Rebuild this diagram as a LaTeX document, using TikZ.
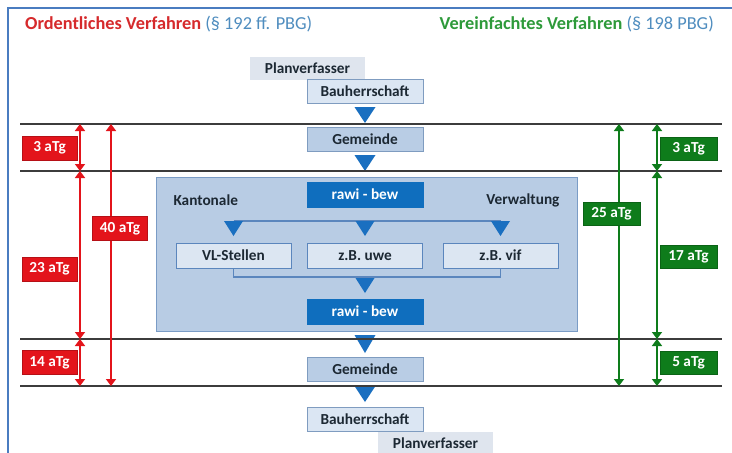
\documentclass[tikz,border=0pt]{standalone}
\usepackage{fontspec}
\setmainfont{Carlito}
\usetikzlibrary{arrows.meta,calc}
\definecolor{frameblue}{HTML}{4A7CC0}
\definecolor{tred}{HTML}{D62A2C}
\definecolor{tgreen}{HTML}{2E9A3A}
\definecolor{tblue}{HTML}{4F8DBF}
\definecolor{planfill}{HTML}{DFE5EE}
\definecolor{baufill}{HTML}{DBE6F3}
\definecolor{boxline}{HTML}{7F9CC0}
\definecolor{gemfill}{HTML}{B9CDE5}
\definecolor{bigfill}{HTML}{B8CCE4}
\definecolor{bigline}{HTML}{7A9CC6}
\definecolor{rawifill}{HTML}{0F6EBE}
\definecolor{innerfill}{HTML}{DCE6F2}
\definecolor{innerline}{HTML}{5B86BD}
\definecolor{tricol}{HTML}{1A6FC0}
\definecolor{hlinecol}{HTML}{3C3C3C}
\definecolor{txt}{HTML}{1C2833}
\definecolor{labred}{HTML}{E3141B}
\definecolor{labgreen}{HTML}{0E7C1B}
\newcommand\mytri[4]{\fill[tricol] (#1-#3/2,#2) -- (#1+#3/2,#2) -- (#1,#2+#4) -- cycle;}
\tikzset{
  box/.style={draw=boxline, line width=0.8pt, minimum width=116pt, minimum height=24pt, inner sep=0pt, text=txt},
  plan/.style={fill=planfill, minimum width=115pt, minimum height=23pt, inner sep=0pt, text=txt},
  bau/.style={box, fill=baufill},
  gem/.style={box, fill=gemfill},
  rawi/.style={draw=rawifill, fill=rawifill, minimum width=116pt, minimum height=25pt, inner sep=0pt, text=white},
  inner/.style={draw=innerline, line width=0.8pt, fill=innerfill, minimum width=115pt, minimum height=25pt, inner sep=0pt, text=txt},
  hline/.style={draw=hlinecol, line width=1.8pt},
  conn/.style={draw=innerline, line width=1.5pt},
  dimR/.style={draw=labred, line width=1.5pt, {Triangle[width=10pt,length=7pt]}-{Triangle[width=10pt,length=7pt]}},
  dimG/.style={draw=labgreen, line width=1.5pt, {Triangle[width=10pt,length=7pt]}-{Triangle[width=10pt,length=7pt]}},
  labR/.style={fill=labred, draw=labred!80!black, line width=0.5pt, text=white, minimum width=55pt, minimum height=24pt, inner sep=0pt},
  labG/.style={fill=labgreen, draw=labgreen!80!black, line width=0.5pt, text=white, minimum width=57pt, minimum height=23pt, inner sep=0pt},
}
\begin{document}
\begin{tikzpicture}[x=1pt,y=-1pt,font=\bfseries\fontsize{15.3}{17}\selectfont]
\useasboundingbox (0,0) rectangle (732,453);
\fill[white] (0,0) rectangle (732,453);
% frame
\draw[frameblue, line width=2.5pt] (733,8) -- (8,8) -- (8,454);
% titles
\node[anchor=base west, inner sep=0pt, font=\bfseries\fontsize{18.3}{21}\selectfont] (t1) at (25,29)
  {\textcolor{tred}{Ordentliches Verfahren} \textcolor{tblue}{\mdseries(§ 192 ff. PBG)}};
\node[anchor=base east, inner sep=0pt, font=\bfseries\fontsize{18.3}{21}\selectfont] (t2) at (714,29)
  {\textcolor{tgreen}{Vereinfachtes Verfahren} \textcolor{tblue}{\mdseries(§ 198 PBG)}};
% big box
\draw[draw=bigline, fill=bigfill, line width=1pt] (156,177) rectangle (577,331);
\node[anchor=west, text=txt] (kant) at (170,200) {Kantonale};
\node[anchor=east, text=txt] (verw) at (563,200) {Verwaltung};
% level coordinates
\coordinate (L1) at (20,124);  \coordinate (L1r) at (722,124);
\coordinate (L2) at (20,171);  \coordinate (L2r) at (722,171);
\coordinate (L3) at (20,339);  \coordinate (L3r) at (722,339);
\coordinate (L4) at (20,386);  \coordinate (L4r) at (722,386);
% main triangles
\mytri{365}{107}{21}{16}
\mytri{365}{155}{21}{16}
\mytri{365}{335}{21}{18}
\mytri{365}{386}{21}{16}
% horizontal lines
\draw[hline] (L1) -- (L1r);
\draw[hline] (L2) -- (L2r);
\draw[hline] (L3) -- (L3r);
\draw[hline] (L4) -- (L4r);
% main nodes
\node[plan] (planA) at (307.5,68.5) {Planverfasser};
\node[bau] (bauA) at (365,91.5) {Bauherrschaft};
\node[gem] (gemA) at (365,139.5) {Gemeinde};
\node[rawi] (rawiA) at (365,194.5) {rawi - bew};
\node[inner] (vl) at (233.5,255.5) {VL-Stellen};
\node[inner] (uwe) at (365,255.5) {z.B. uwe};
\node[inner] (vif) at (500.5,255.5) {z.B. vif};
\node[rawi] (rawiB) at (365,311.5) {rawi - bew};
\node[gem] (gemB) at (365,369.5) {Gemeinde};
\node[bau] (bauB) at (365,419) {Bauherrschaft};
\node[plan] (planB) at (435.5,443.5) {Planverfasser};
% inner connectors
\coordinate (ct) at (365,221);
\coordinate (cb) at (365,277);
\draw[conn] (vl.north |- ct) -- (vif.north |- ct);
\draw[conn] (vl.south) -- (vl.south |- cb) -- (vif.south |- cb) -- (vif.south);
\mytri{233.5}{221}{19}{15}
\mytri{365}{221}{19}{15}
\mytri{500.5}{221}{19}{15}
\mytri{365}{278}{19}{15}
% red dimensions
\coordinate (rA) at (80,0);
\coordinate (rB) at (111,0);
\draw[dimR] (L1 -| rA) -- (L2 -| rA);
\draw[dimR] (L2 -| rA) -- (L3 -| rA);
\draw[dimR] (L3 -| rA) -- (L4 -| rA);
\draw[dimR] (L1 -| rB) -- (L4 -| rB);
\node[labR] (r3) at (49.5,148) {3 aTg};
\node[labR] (r23) at (49.5,269) {23 aTg};
\node[labR] (r14) at (49.5,362.5) {14 aTg};
\node[labR] (r40) at (120,228.5) {40 aTg};
% green dimensions
\coordinate (gA) at (619,0);
\coordinate (gB) at (657,0);
\draw[dimG] (L1 -| gA) -- (L4 -| gA);
\draw[dimG] (L1 -| gB) -- (L2 -| gB);
\draw[dimG] (L2 -| gB) -- (L3 -| gB);
\draw[dimG] (L3 -| gB) -- (L4 -| gB);
\node[labG] (g3) at (688.5,148.5) {3 aTg};
\node[labG] (g17) at (688.5,256.5) {17 aTg};
\node[labG] (g5) at (688.5,363) {5 aTg};
\node[labG] (g25) at (611.5,213.5) {25 aTg};
\end{tikzpicture}
\end{document}
